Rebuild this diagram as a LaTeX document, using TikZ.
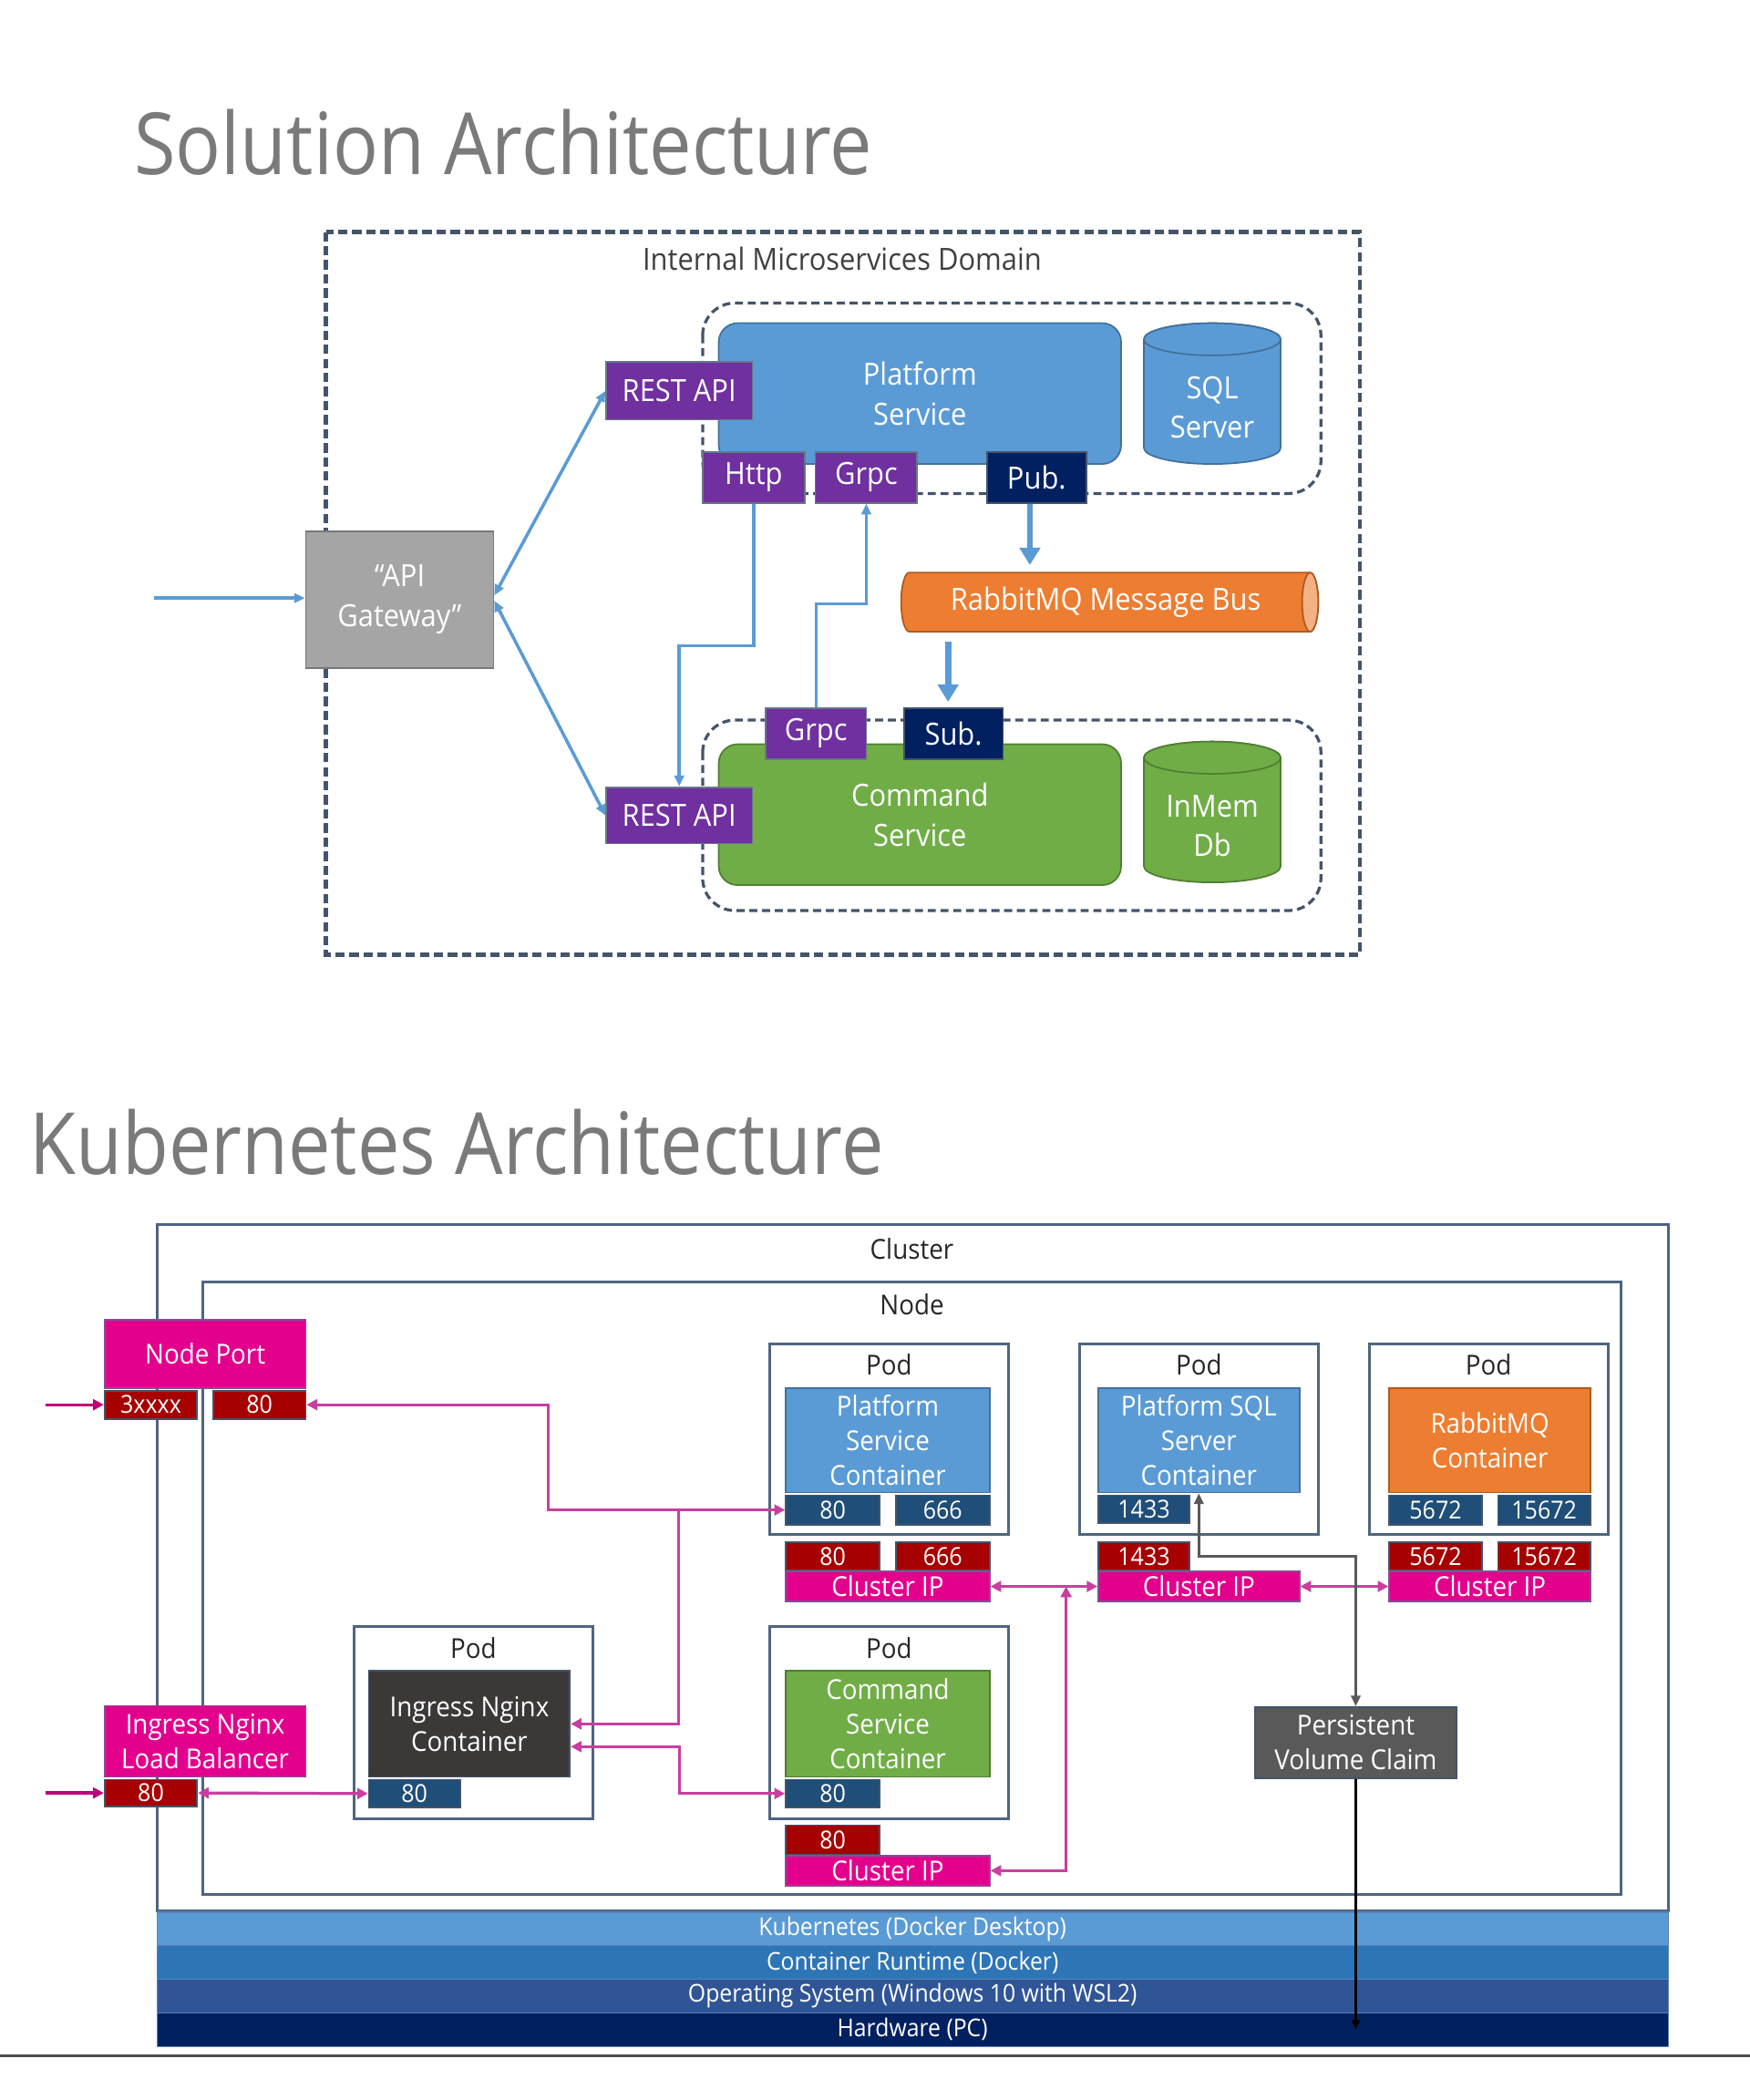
\documentclass[tikz,border=0pt]{standalone}
\usepackage{fontspec}
\setmainfont[FakeStretch=0.92]{Open Sans}
\newfontfamily\titlefont[FakeStretch=0.88]{Open Sans}
\usetikzlibrary{positioning}
\usetikzlibrary{arrows.meta}
\usetikzlibrary{calc}

\definecolor{slate}{RGB}{68,84,106}
\definecolor{darktext}{RGB}{64,64,64}
\definecolor{titlegray}{RGB}{122,122,122}
\definecolor{msblue}{RGB}{91,155,213}
\definecolor{msblueline}{RGB}{65,113,156}
\definecolor{msgreen}{RGB}{112,173,71}
\definecolor{msgreenline}{RGB}{80,126,50}
\definecolor{msorange}{RGB}{237,125,49}
\definecolor{msorangeline}{RGB}{174,90,33}
\definecolor{msorangelight}{RGB}{244,177,131}
\definecolor{mspurple}{RGB}{112,48,160}
\definecolor{msnavy}{RGB}{0,32,96}
\definecolor{msgray}{RGB}{165,165,165}
\definecolor{msgrayline}{RGB}{120,120,120}
\definecolor{k8smagenta}{RGB}{227,0,140}
\definecolor{k8smagline}{RGB}{128,80,150}
\definecolor{k8sred}{RGB}{166,0,0}
\definecolor{k8sport}{RGB}{31,78,121}
\definecolor{k8slink}{RGB}{201,62,160}
\definecolor{k8sin}{RGB}{190,0,120}
\definecolor{podline}{RGB}{78,101,128}
\definecolor{ingdark}{RGB}{59,56,56}
\definecolor{pvcgray}{RGB}{89,89,89}
\definecolor{layerA}{RGB}{91,155,213}
\definecolor{layerB}{RGB}{46,117,182}
\definecolor{layerC}{RGB}{47,85,151}
\definecolor{layerD}{RGB}{0,32,96}
\definecolor{layerline}{RGB}{90,130,185}

\begin{document}
\begin{tikzpicture}[x=1pt, y=1pt,
  box/.style={rectangle, inner sep=0pt, align=center, text=white, line width=1.2pt},
  titletext/.style={anchor=base west, inner sep=0pt, text=titlegray, font=\titlefont\fontsize{64}{70}\selectfont},
  topfont/.style={font=\fontsize{22.8}{29.5}\selectfont},
  kfont/.style={font=\fontsize{20.5}{26}\selectfont},
  pfont/.style={font=\fontsize{18.5}{21}\selectfont},
  api/.style={box, topfont, fill=mspurple, draw=slate!80},
  msg/.style={box, topfont, fill=msnavy, draw=slate},
  domainbox/.style={draw=slate, line width=2.8pt, dash pattern=on 7pt off 3.5pt},
  groupbox/.style={draw=slate, line width=2.2pt, dash pattern=on 6pt off 3.5pt, rounded corners=24pt},
  drum/.style={line width=1.2pt},
  flow/.style={draw=msblue, line width=2.4pt, -{Triangle[length=8pt,width=7pt]}},
  flowboth/.style={draw=msblue, line width=2.4pt, {Triangle[length=8pt,width=7pt]}-{Triangle[length=8pt,width=7pt]}},
  busflow/.style={draw=msblue, line width=4.5pt, -{Triangle[length=13pt,width=15pt]}},
  podbox/.style={draw=podline, line width=2pt, minimum width=178pt, minimum height=142pt},
  podtext/.style={kfont, text=black!85},
  cont/.style={box, kfont, draw=msblueline, minimum width=152pt, minimum height=78pt},
  cport/.style={box, pfont, fill=k8sport, draw=slate, minimum width=70pt, minimum height=22pt},
  sport/.style={box, pfont, fill=k8sred, draw=slate, minimum width=70pt, minimum height=21pt},
  mag/.style={box, kfont, fill=k8smagenta, draw=k8smagline},
  cip/.style={mag, minimum width=152pt, minimum height=22pt},
  link/.style={draw=k8slink, line width=2.2pt, {Triangle[length=8pt,width=8pt]}-{Triangle[length=8pt,width=8pt]}},
  linkend/.style={draw=k8slink, line width=2.2pt, -{Triangle[length=8pt,width=8pt]}},
  linkin/.style={draw=k8sin, line width=2.2pt, -{Triangle[length=8pt,width=8pt]}},
  stack/.style={box, font=\fontsize{18.3}{20}\selectfont, draw=layerline, line width=0.8pt, minimum width=1127pt, minimum height=25pt}
]
\useasboundingbox (0,0) rectangle (1305,-1566);

%titles
\node[titletext] (soltitle) at (100,-130) {Solution Architecture};
\node[titletext] (k8stitle) at (22,-876) {Kubernetes Architecture};

%%%% solution architecture
%frames
\draw[domainbox] (243,-173) rectangle (1014,-712);
\node[topfont, text=darktext] (domainlabel) at (628,-193) {Internal Microservices Domain};
\draw[groupbox] (524,-226) rectangle (985,-368);
\draw[groupbox] (524,-537) rectangle (985,-679);

%services
\node[box, topfont, fill=msblue, draw=msblueline, rounded corners=14pt, minimum width=300pt, minimum height=105pt] (platform) at (686,-293.5) {Platform\\Service};
\node[box, topfont, fill=msgreen, draw=msgreenline, rounded corners=14pt, minimum width=300pt, minimum height=105pt] (command) at (686,-607.5) {Command\\Service};

%databases
\draw[drum, fill=msblue, draw=msblueline] (853,-253) -- (853,-334) arc[start angle=180, end angle=360, x radius=51, y radius=12] -- (955,-253) arc[start angle=0, end angle=180, x radius=51, y radius=12] -- cycle;
\draw[drum, fill=msblue, draw=msblueline] (904,-253) ellipse[x radius=51, y radius=12];
\node[topfont, text=white, align=center] (sqlserver) at (904,-304) {SQL\\Server};
\draw[drum, fill=msgreen, draw=msgreenline] (853,-565) -- (853,-646) arc[start angle=180, end angle=360, x radius=51, y radius=12] -- (955,-565) arc[start angle=0, end angle=180, x radius=51, y radius=12] -- cycle;
\draw[drum, fill=msgreen, draw=msgreenline] (904,-565) ellipse[x radius=51, y radius=12];
\node[topfont, text=white, align=center] (inmem) at (904,-616) {InMem\\Db};

%message bus
\draw[drum, fill=msorange, draw=msorangeline] (977,-427) -- (678,-427) arc[start angle=90, end angle=270, x radius=6, y radius=22] -- (977,-471) arc[start angle=270, end angle=450, x radius=6, y radius=22] -- cycle;
\draw[drum, fill=msorangelight, draw=msorangeline] (977,-449) ellipse[x radius=6, y radius=22];
\node[box, topfont, minimum width=305pt, minimum height=44pt] (bus) at (824.5,-449) {RabbitMQ Message Bus};

%endpoints
\node[api, minimum width=109pt, minimum height=43pt] (restTop) at (506.5,-291.5) {REST API};
\node[api, minimum width=109pt, minimum height=42pt] (restBot) at (506.5,-608) {REST API};
\node[api, minimum width=76pt, minimum height=38pt] (http) at (562,-356) {Http};
\node[api, minimum width=76pt, minimum height=38pt] (grpcTop) at (646,-356) {Grpc};
\node[api, minimum width=75pt, minimum height=38pt] (grpcBot) at (608.5,-547) {Grpc};
\node[msg, minimum width=74pt, minimum height=38pt] (pub) at (773,-356) {Pub.};
\node[msg, minimum width=74pt, minimum height=38pt] (sub) at (711,-547) {Sub.};

%gateway
\node[box, topfont, fill=msgray, draw=msgrayline, minimum width=140pt, minimum height=102pt] (gateway) at (298,-447) {“API\\Gateway”};
\coordinate (client) at (115,-446);

%connectors
\draw[flow] (client) -- (client -| gateway.west);
\draw[flowboth] ($(gateway.east)+(0,3)$) -- (restTop.west);
\draw[flowboth] ($(gateway.east)+(0,-1)$) -- (restBot.west);
\draw[flow] (http.south) -- ++(0,-106) -| (restBot.north);
\draw[flow] (grpcBot.north) -- ++(0,77) -| (grpcTop.south);
\coordinate (pubout) at ($(pub.south)+(-5,0)$);
\draw[busflow, shorten >=5pt] (pubout) -- (pubout |- bus.north);
\coordinate (subin) at ($(sub.north)+(-4,0)$);
\draw[busflow, shorten <=7pt, shorten >=4pt] (subin |- bus.south) -- (subin);

%%%% kubernetes architecture
%frames
\draw[podline, line width=2pt] (117,-913) rectangle (1244,-1425);
\node[kfont, text=black!85] (clusterlabel) at (680,-931) {Cluster};
\draw[podline, line width=2pt] (151,-956) rectangle (1209,-1413);
\node[kfont, text=black!85] (nodelabel) at (680,-973) {Node};

%layers
\node[stack, fill=layerA] (kube) at (680.5,-1438.5) {Kubernetes (Docker Desktop)};
\node[stack, fill=layerB] (runtime) at (680.5,-1463.5) {Container Runtime (Docker)};
\node[stack, fill=layerC] (os) at (680.5,-1488.5) {Operating System (Windows 10 with WSL2)};
\node[stack, fill=layerD] (hw) at (680.5,-1513.5) {Hardware (PC)};

%pods
\node[podbox] (podPlat) at (663,-1073) {};
\node[podbox] (podSql) at (894,-1073) {};
\node[podbox] (podRmq) at (1110,-1073) {};
\node[podbox, minimum height=143pt] (podIng) at (353,-1284.5) {};
\node[podbox, minimum height=143pt] (podCmd) at (663,-1284.5) {};
\foreach \p in {podPlat,podSql,podRmq,podIng,podCmd}
  \node[podtext, below=5.5pt of \p.north] {Pod};

%containers
\node[cont, fill=msblue] (platC) at (662,-1074) {Platform\\Service\\Container};
\node[cont, fill=msblue, minimum width=150pt] (sqlC) at (894,-1074) {Platform SQL\\Server\\Container};
\node[cont, fill=msorange, draw=msorangeline, minimum width=150pt] (rmqC) at (1111,-1074) {RabbitMQ\\Container};
\node[cont, fill=ingdark, draw=slate, minimum width=150pt, minimum height=79pt] (ingC) at (350,-1285.5) {Ingress Nginx\\Container};
\node[cont, fill=msgreen, draw=msgreenline, minimum height=79pt] (cmdC) at (662,-1285.5) {Command\\Service\\Container};

%container ports
\node[cport] (platP80) at (621,-1126) {80};
\node[cport] (platP666) at (703,-1126) {666};
\node[cport, minimum width=68pt, minimum height=21pt] (sqlP) at (853,-1125.5) {1433};
\node[cport, minimum width=69pt] (rmqP1) at (1070.5,-1126) {5672};
\node[cport, minimum width=69pt] (rmqP2) at (1151.5,-1126) {15672};
\node[cport, minimum width=68pt, minimum height=21pt] (ingP) at (309,-1337.5) {80};
\node[cport, minimum height=21pt] (cmdP) at (621,-1337.5) {80};

%service ports
\node[sport] (platS80) at (621,-1160.5) {80};
\node[sport] (platS666) at (703,-1160.5) {666};
\node[sport, minimum width=68pt] (sqlS) at (853,-1160.5) {1433};
\node[sport, minimum width=69pt] (rmqS1) at (1070.5,-1160.5) {5672};
\node[sport, minimum width=69pt] (rmqS2) at (1151.5,-1160.5) {15672};
\node[sport, minimum height=22pt] (cmdS) at (621,-1372) {80};
\node[sport, minimum width=69pt] (npS1) at (112.5,-1047.5) {3xxxx};
\node[sport, minimum width=69pt] (npS2) at (193.5,-1047.5) {80};
\node[sport, minimum width=69pt, minimum height=20pt] (lbS) at (112.5,-1337) {80};

%services
\node[cip] (platIP) at (662,-1183) {Cluster IP};
\node[cip, minimum width=150pt] (sqlIP) at (894,-1183) {Cluster IP};
\node[cip, minimum width=150pt] (rmqIP) at (1111,-1183) {Cluster IP};
\node[cip] (cmdIP) at (662,-1395) {Cluster IP};
\node[mag, minimum width=150pt, minimum height=51pt] (nodeport) at (153,-1009.5) {Node Port};
\node[mag, minimum width=150pt, minimum height=53pt] (lb) at (153,-1298.5) {Ingress Nginx\\Load Balancer};
\node[box, kfont, fill=pvcgray, draw=slate, minimum width=150pt, minimum height=53pt] (pvc) at (1011,-1299.5) {Persistent\\Volume Claim};

%links
\coordinate (userNP) at (34,-1047.5);
\coordinate (userLB) at (34,-1337);
\coordinate (j1) at (506,-1126);
\coordinate (j2) at (795,-1183);
\draw[linkin] (userNP) -- (npS1.west);
\draw[linkin] (userLB) -- (lbS.west);
\draw[link] (npS2.east) -- ++(180,0) |- (platP80.west);
\draw[linkend] (j1) |- (ingC.east);
\draw[link] ($(ingC.east)+(0,-17)$) -- ++(81,0) |- (cmdP.west);
\draw[link] (lbS.east) -- (ingP.west);
\draw[link] (platIP.east) -- (sqlIP.west);
\draw[link] (cmdIP.east) -| (j2);
\draw[link] (sqlIP.east) -- (rmqIP.west);
\draw[pvcgray, line width=2pt, {Triangle[length=8pt,width=7pt]}-{Triangle[length=8pt,width=7pt]}] (sqlC.south) -- ++(0,-47) -| (pvc.north);
\draw[black, line width=2pt, -{Triangle[length=7pt,width=6pt]}] (pvc.south) -- (pvc.south |- hw.center);

%slide edge
\draw[black!70, line width=1.5pt] (0,-1533) -- (1305,-1533);
\end{tikzpicture}
\end{document}
